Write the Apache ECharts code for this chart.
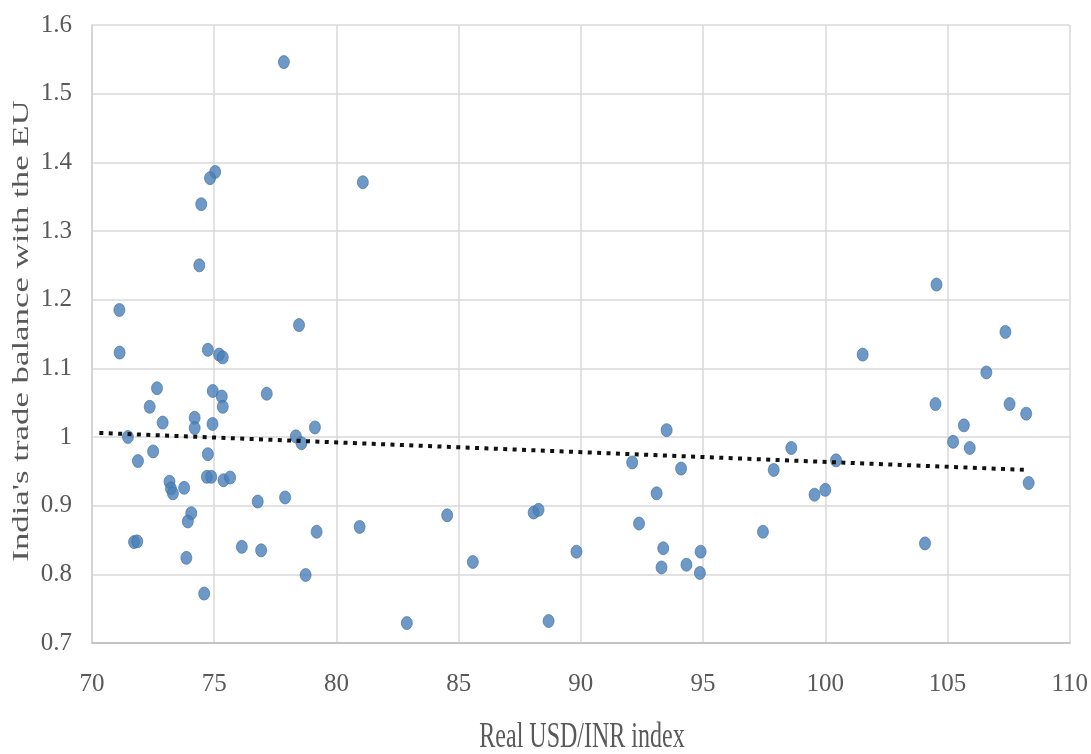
<!DOCTYPE html>
<html>
<head>
<meta charset="utf-8">
<title>India's trade balance with the EU vs Real USD/INR index</title>
<script src="https://cdn.jsdelivr.net/npm/echarts@6/dist/echarts.min.js"></script>
<style>
  html, body { margin: 0; padding: 0; background: #ffffff; }
  #chart { width: 1091px; height: 754px; }
</style>
</head>
<body>
<div id="chart"></div>
<script>
// Real USD/INR index (x) and India's trade balance with the EU (y), one entry per observation
const usdInrIndex = [
  77.85, 75.04, 74.83, 74.47, 81.08, 74.39, 71.12, 78.47, 71.13, 74.74,
  75.20, 75.35, 72.66, 72.36, 74.94, 75.31, 75.35, 77.15, 72.89, 74.20,
  74.20, 74.93, 71.47, 72.50, 71.88, 74.74, 78.34, 78.57, 79.12, 74.70,
  74.88, 75.38, 75.65, 73.17, 73.23, 73.31, 73.77, 76.78, 77.90, 74.06,
  73.92, 71.72, 71.85, 79.19, 80.95, 76.13, 76.92, 73.86, 78.74, 74.59,
  82.88, 84.53, 85.58, 88.07, 88.27, 88.68, 89.82, 92.10, 92.38, 93.10,
  93.51, 94.10, 93.37, 93.30, 94.32, 94.90, 94.87, 97.45, 97.89, 98.61,
  99.56, 100.00, 100.44, 101.53, 104.08, 104.55, 104.51, 105.23, 105.67, 105.91,
  106.59, 107.37, 107.54, 108.22, 108.32
];
const tradeBalance = [
  1.546, 1.386, 1.377, 1.339, 1.371, 1.250, 1.185, 1.163, 1.123, 1.127,
  1.120, 1.116, 1.071, 1.044, 1.067, 1.059, 1.044, 1.063, 1.021, 1.028,
  1.013, 1.019, 1.000, 0.979, 0.965, 0.975, 1.001, 0.991, 1.014, 0.942,
  0.942, 0.937, 0.941, 0.935, 0.925, 0.918, 0.926, 0.906, 0.912, 0.889,
  0.877, 0.847, 0.848, 0.862, 0.869, 0.840, 0.835, 0.824, 0.799, 0.772,
  0.729, 0.886, 0.818, 0.890, 0.894, 0.732, 0.833, 0.963, 0.874, 0.918,
  1.010, 0.954, 0.838, 0.810, 0.814, 0.833, 0.802, 0.862, 0.952, 0.984,
  0.916, 0.923, 0.966, 1.120, 0.845, 1.222, 1.048, 0.993, 1.017, 0.984,
  1.094, 1.153, 1.048, 1.034, 0.933
];

// Linear trend line end points
const trendX = [70.3, 108.3];
const trendY = [1.006, 0.952];

// Axis ranges and steps
const xRange = [70, 110, 5];
const yRange = [0.7, 1.6, 0.1];

const xTitle = 'Real USD/INR index';
const yTitle = "India's trade balance with the EU";

const FONT = '"Liberation Serif", "Times New Roman", serif';
const TEXT_COLOR = '#595959';

const points = usdInrIndex.map((x, i) => [x, tradeBalance[i]]);
const trend = trendX.map((x, i) => [x, trendY[i]]);

const chart = echarts.init(document.getElementById('chart'), null, { renderer: 'canvas' });

chart.setOption({
  backgroundColor: '#ffffff',
  animation: false,
  grid: { left: 92, right: 19, top: 25, bottom: 111, containLabel: false },
  xAxis: {
    type: 'value',
    min: xRange[0], max: xRange[1], interval: xRange[2],
    axisLine: { show: true, lineStyle: { color: '#c4c4c4', width: 2 } },
    axisTick: { show: false },
    splitLine: { show: true, lineStyle: { color: '#d9d9d9', width: 1.5 } },
    axisLabel: { margin: 29, color: TEXT_COLOR, fontFamily: FONT, fontSize: 25 }
  },
  yAxis: {
    type: 'value',
    min: yRange[0], max: yRange[1], interval: yRange[2],
    axisLine: { show: true, lineStyle: { color: '#d0d0d0', width: 1.5 } },
    axisTick: { show: false },
    splitLine: { show: true, lineStyle: { color: '#d9d9d9', width: 1.5 } },
    axisLabel: {
      margin: 20, color: TEXT_COLOR, fontFamily: FONT, fontSize: 25,
      formatter: v => String(Math.round(v * 10) / 10)
    }
  },
  series: [
    {
      type: 'scatter',
      data: points,
      symbol: 'circle',
      symbolSize: [11, 13],
      itemStyle: { color: '#4a7fb8', borderColor: '#3f6fa3', borderWidth: 0.8 },
      z: 3
    },
    {
      type: 'line',
      data: trend,
      symbol: 'none',
      lineStyle: { color: '#111111', width: 4, type: [4, 5.4], cap: 'butt' },
      z: 4
    }
  ],
  graphic: [
    {
      type: 'text',
      x: 582, y: 738,
      scaleY: 1.45,
      style: {
        text: xTitle, fill: TEXT_COLOR,
        font: '24px ' + FONT, align: 'center', verticalAlign: 'middle'
      }
    },
    {
      type: 'text',
      x: 22, y: 331,
      rotation: Math.PI / 2,
      scaleX: 1.45,
      style: {
        text: yTitle, fill: TEXT_COLOR,
        font: '24px ' + FONT, align: 'center', verticalAlign: 'middle'
      }
    }
  ]
});
</script>
</body>
</html>
